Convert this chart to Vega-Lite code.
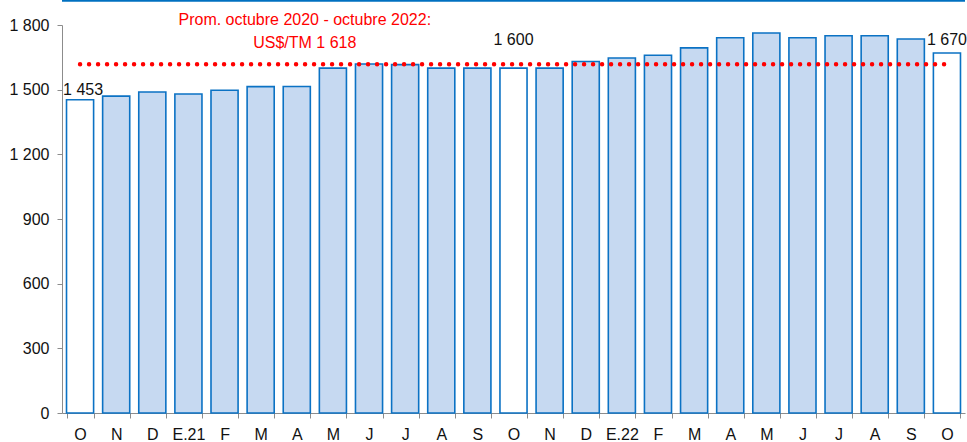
{
  "$schema": "https://vega.github.io/schema/vega-lite/v6.json",
  "autosize": "none",
  "width": 903,
  "height": 388,
  "padding": {"left": 62, "top": 25, "right": 2, "bottom": 29},
  "config": {
    "font": "Liberation Sans",
    "view": {"stroke": null},
    "axis": {"labelFont": "Liberation Sans", "labelFontSize": 15, "labelColor": "#111111", "grid": false, "domainColor": "#8c8c8c", "tickColor": "#8c8c8c", "title": null}
  },
  "datasets": {
    "bars": [
      {"k": "O|20", "v": 1453, "t": "ref", "lbl": "1 453"},
      {"k": "N|20", "v": 1470, "t": "normal"},
      {"k": "D|20", "v": 1489, "t": "normal"},
      {"k": "E.21|21", "v": 1480, "t": "normal"},
      {"k": "F|21", "v": 1497, "t": "normal"},
      {"k": "M|21", "v": 1514, "t": "normal"},
      {"k": "A|21", "v": 1515, "t": "normal"},
      {"k": "M|21b", "v": 1600, "t": "normal"},
      {"k": "J|21", "v": 1619, "t": "normal"},
      {"k": "J|21b", "v": 1616, "t": "normal"},
      {"k": "A|21b", "v": 1600, "t": "normal"},
      {"k": "S|21", "v": 1600, "t": "normal"},
      {"k": "O|21", "v": 1600, "t": "ref", "lbl": "1 600"},
      {"k": "N|21", "v": 1600, "t": "normal"},
      {"k": "D|21", "v": 1631, "t": "normal"},
      {"k": "E.22|22", "v": 1647, "t": "normal"},
      {"k": "F|22", "v": 1660, "t": "normal"},
      {"k": "M|22", "v": 1694, "t": "normal"},
      {"k": "A|22", "v": 1741, "t": "normal"},
      {"k": "M|22b", "v": 1763, "t": "normal"},
      {"k": "J|22", "v": 1741, "t": "normal"},
      {"k": "J|22b", "v": 1750, "t": "normal"},
      {"k": "A|22b", "v": 1750, "t": "normal"},
      {"k": "S|22", "v": 1735, "t": "normal"},
      {"k": "O|22", "v": 1670, "t": "ref", "lbl": "1 670"}
    ],
    "one": [{"avg": 1618}]
  },
  "data": {"name": "bars"},
  "layer": [
    {
      "mark": {"type": "bar", "stroke": "#0b72c4", "strokeWidth": 1.6},
      "encoding": {
        "x": {
          "field": "k", "type": "nominal", "sort": null,
          "scale": {"paddingInner": 0.25, "paddingOuter": 0.125},
          "axis": {"labelExpr": "isString(datum.value) ? split(datum.value, '|')[0] : ''", "labelAngle": 0, "tickBand": "extent", "tickSize": 5, "labelPadding": 8, "labelFontSize": 16}
        },
        "y": {"field": "v", "type": "quantitative", "scale": {"domain": [0, 1800], "nice": false},
          "axis": {"values": [0, 300, 600, 900, 1200, 1500, 1800], "labelExpr": "replace(format(datum.value, ','), ',', ' ')", "tickSize": 5, "labelPadding": 8, "labelFontSize": 16}},
        "fill": {"field": "t", "type": "nominal", "scale": {"domain": ["normal", "ref"], "range": ["#c6d9f1", "#ffffff"]}, "legend": null}
      }
    },
    {
      "data": {"name": "one"},
      "mark": {"type": "rule", "color": "#ff0000", "strokeWidth": 4.5, "strokeDash": [0, 9], "strokeCap": "round"},
      "encoding": {
        "x": {"datum": "O|20"},
        "x2": {"datum": "O|22"},
        "y": {"field": "avg", "type": "quantitative"}
      }
    },
    {
      "data": {"name": "one"},
      "mark": {"type": "rule", "color": "#0070c0", "strokeWidth": 2, "clip": false},
      "encoding": {"y": {"datum": 1912}}
    },
    {
      "transform": [{"filter": "datum.k === 'O|20'"}],
      "mark": {"type": "text", "baseline": "bottom", "dy": -2, "dx": 3, "fontSize": 16, "color": "#111111"},
      "encoding": {"x": {"field": "k", "type": "nominal", "sort": null}, "y": {"field": "v", "type": "quantitative"}, "text": {"field": "lbl"}}
    },
    {
      "transform": [{"filter": "datum.k === 'O|21' || datum.k === 'O|22'"}],
      "mark": {"type": "text", "baseline": "middle", "fontSize": 16, "color": "#111111"},
      "encoding": {"x": {"field": "k", "type": "nominal", "sort": null}, "y": {"datum": 1730}, "text": {"field": "lbl"}}
    },
    {
      "data": {"name": "one"},
      "mark": {"type": "text", "baseline": "middle", "align": "center", "dx": 8, "fontSize": 16, "lineHeight": 23, "color": "#ff0000",
        "text": ["Prom. octubre 2020 - octubre 2022:", "US$/TM 1 618"]},
      "encoding": {"x": {"datum": "A|21"}, "y": {"datum": 1823}}
    }
  ]
}
